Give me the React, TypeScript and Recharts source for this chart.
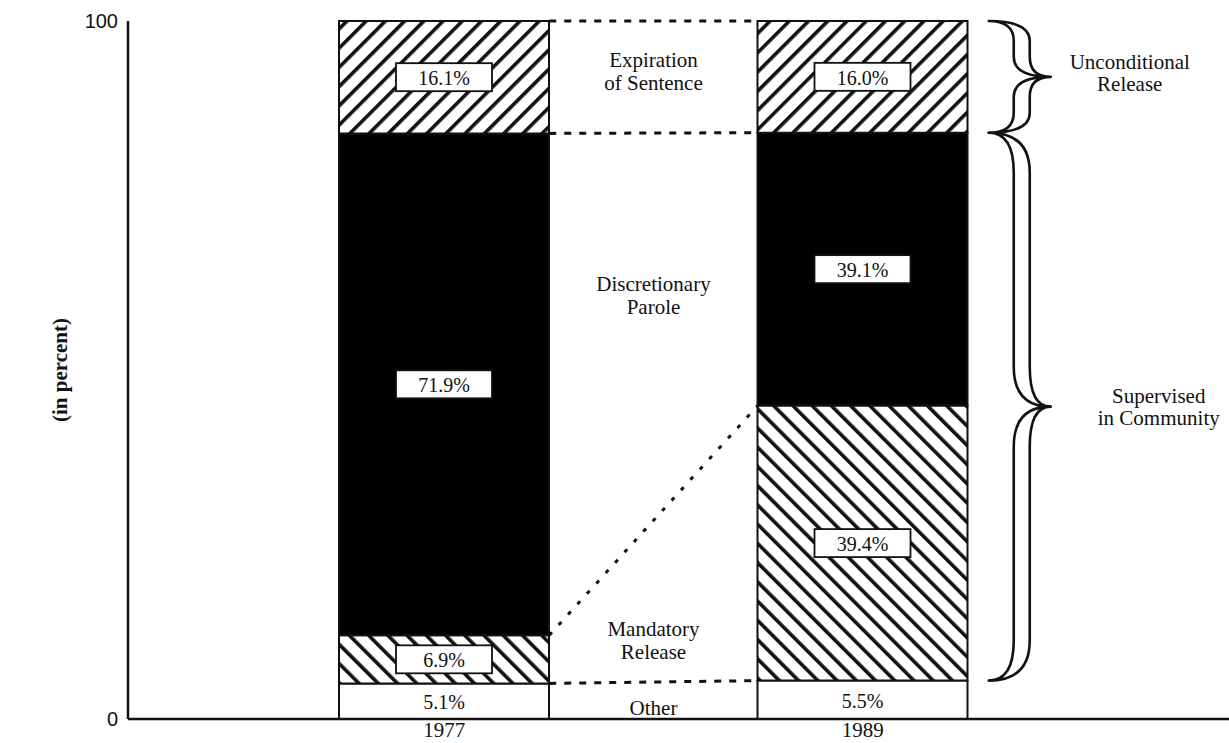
import { BarChart, Bar, XAxis, YAxis, ReferenceLine, LabelList } from 'recharts'

const years = ['1977', '1989']
const other = [5.1, 5.5]
const mandatory = [6.9, 39.4]
const parole = [71.9, 39.1]
const expiration = [16.1, 16.0]
const yTicks = [0, 100]

// annotation text between the bars, anchored at a value on the y scale
const middleLabels = [
  { lines: ['Expiration', 'of Sentence'], at: 92.7 },
  { lines: ['Discretionary', 'Parole'], at: 60.7 },
  { lines: ['Mandatory', 'Release'], at: 11.2 },
  { lines: ['Other'], at: 1.6 },
]

const segments = [other, mandatory, parole, expiration]
const top = (i: number, n: number) => segments.slice(0, n).reduce((s, a) => s + a[i], 0)

const data = years.map((year, i) => ({
  year,
  other: other[i],
  mandatory: mandatory[i],
  parole: parole[i],
  expiration: expiration[i],
}))

const braces = [
  { lines: ['Unconditional', 'Release'], from: top(1, 3), to: top(1, 4), r: 20, textDx: 79, textDy: -3.5 },
  { lines: ['Supervised', 'in Community'], from: top(1, 1), to: top(1, 3), r: 40, textDx: 108, textDy: 0 },
]

const BAR = 210
const HALF = BAR / 2
const SERIF = '"Liberation Serif", "Times New Roman", serif'
const INK = '#111'
const TILE = 13.6

function boxLabel(boxed: boolean) {
  return (p: any) => {
    const vb = p.viewBox ?? p
    const x = Number(vb.x ?? p.x)
    const y = Number(vb.y ?? p.y)
    const w = Number(vb.width ?? p.width)
    const h = Number(vb.height ?? p.height)
    const cx = x + w / 2
    const cy = y + h / 2
    const txt = `${Number(p.value).toFixed(1)}%`
    return (
      <g>
        {boxed && <rect x={cx - 48} y={cy - 14} width={96} height={28} fill="#fff" stroke={INK} strokeWidth={1.8} />}
        <text x={cx} y={cy + 1} textAnchor="middle" dominantBaseline="central" fontFamily={SERIF} fontSize={20} fill={INK}>
          {txt}
        </text>
      </g>
    )
  }
}

function connector(dash: string) {
  return (p: any) => (
    <line
      x1={p.x1 + HALF}
      y1={p.y1}
      x2={p.x2 - HALF}
      y2={p.y2}
      stroke={INK}
      strokeWidth={3}
      strokeDasharray={dash}
    />
  )
}

function middleText(lines: string[]) {
  return (p: any) => {
    const cx = (p.x1 + p.x2) / 2
    const n = lines.length
    return (
      <g>
        {lines.map((t, k) => (
          <text
            key={t}
            x={cx}
            y={p.y1 + (k - (n - 1) / 2) * 23}
            textAnchor="middle"
            dominantBaseline="central"
            fontFamily={SERIF}
            fontSize={21}
            fill={INK}
          >
            {t}
          </text>
        ))}
      </g>
    )
  }
}

function braceShape(b: (typeof braces)[number]) {
  return (p: any) => {
    const edge = p.x1 + HALF
    const x0 = edge + 21
    const xb = edge + 54
    const xt = edge + 83
    const h = 8
    const yT = Math.min(p.y1, p.y2)
    const yB = Math.max(p.y1, p.y2)
    const yM = (yT + yB) / 2
    const r = b.r
    const d = [
      `M${x0},${yT}`,
      `Q${xb + h},${yT} ${xb + h},${yT + r}`,
      `L${xb + h},${yM - r}`,
      `Q${xb + h},${yM} ${xt},${yM}`,
      `Q${xb + h},${yM} ${xb + h},${yM + r}`,
      `L${xb + h},${yB - r}`,
      `Q${xb + h},${yB} ${x0},${yB}`,
      `Q${xb - h},${yB} ${xb - h},${yB - r}`,
      `L${xb - h},${yM + r}`,
      `Q${xb - h},${yM} ${xt},${yM}`,
      `Q${xb - h},${yM} ${xb - h},${yM - r}`,
      `L${xb - h},${yT + r}`,
      `Q${xb - h},${yT} ${x0},${yT}`,
      'Z',
    ].join(' ')
    return (
      <g>
        <path d={d} fill="#fff" stroke={INK} strokeWidth={2.6} strokeLinejoin="round" />
        {b.lines.map((t, k) => (
          <text
            key={t}
            x={xt + b.textDx}
            y={yM + b.textDy + (k - 0.5) * 22}
            textAnchor="middle"
            dominantBaseline="central"
            fontFamily={SERIF}
            fontSize={21}
            fill={INK}
          >
            {t}
          </text>
        ))}
      </g>
    )
  }
}

const yLabel = (p: any) => {
  const vb = p.viewBox
  const cx = vb.x + 60
  const cy = vb.y + vb.height / 2
  return (
    <text
      x={cx}
      y={cy}
      transform={`rotate(-90 ${cx} ${cy})`}
      textAnchor="middle"
      dominantBaseline="central"
      fontFamily={SERIF}
      fontWeight="bold"
      fontSize={21}
      fill={INK}
    >
      (in percent)
    </text>
  )
}

export default function App() {
  return (
    <div style={{ position: 'absolute', left: 0, top: 0, background: '#fff' }}>
      <BarChart width={1229} height={743} data={data} margin={{ top: 21, right: 0, bottom: 0, left: 0 }}>
        <defs>
          <pattern id="fwd" patternUnits="userSpaceOnUse" width={TILE} height={TILE} patternTransform="rotate(45)">
            <rect width={TILE} height={TILE} fill="#fff" />
            <rect x={0} y={0} width={3.6} height={TILE} fill={INK} />
          </pattern>
          <pattern id="back" patternUnits="userSpaceOnUse" width={TILE} height={TILE} patternTransform="rotate(-45)">
            <rect width={TILE} height={TILE} fill="#fff" />
            <rect x={0} y={0} width={3.6} height={TILE} fill={INK} />
          </pattern>
        </defs>
        <XAxis
          dataKey="year"
          height={24}
          padding={{ left: 107, right: 157 }}
          axisLine={{ stroke: INK, strokeWidth: 2.5 }}
          tickLine={false}
          tickSize={0}
          tickMargin={3}
          tick={{ fill: INK, fontSize: 21, fontFamily: SERIF }}
        />
        <YAxis
          width={128}
          domain={[0, 100]}
          ticks={yTicks}
          axisLine={{ stroke: INK, strokeWidth: 2.5 }}
          tickLine={false}
          tickSize={0}
          tickMargin={10}
          tick={{ fill: INK, fontSize: 20, fontFamily: '"Liberation Sans", Arial, sans-serif' }}
          label={{ content: yLabel }}
        />
        <Bar dataKey="other" stackId="a" barSize={BAR} fill="#fff" stroke={INK} strokeWidth={2} isAnimationActive={false}>
          <LabelList dataKey="other" content={boxLabel(false)} />
        </Bar>
        <Bar dataKey="mandatory" stackId="a" barSize={BAR} fill="url(#back)" stroke={INK} strokeWidth={2} isAnimationActive={false}>
          <LabelList dataKey="mandatory" content={boxLabel(true)} />
        </Bar>
        <Bar dataKey="parole" stackId="a" barSize={BAR} fill="#000" stroke={INK} strokeWidth={2} isAnimationActive={false}>
          <LabelList dataKey="parole" content={boxLabel(true)} />
        </Bar>
        <Bar dataKey="expiration" stackId="a" barSize={BAR} fill="url(#fwd)" stroke={INK} strokeWidth={2} isAnimationActive={false}>
          <LabelList dataKey="expiration" content={boxLabel(true)} />
        </Bar>

        {[4, 3, 1].map((n) => (
          <ReferenceLine
            key={`c${n}`}
            position="middle"
            segment={[
              { x: years[0], y: top(0, n) },
              { x: years[1], y: top(1, n) },
            ]}
            shape={connector('7 8')}
          />
        ))}
        <ReferenceLine
          position="middle"
          segment={[
            { x: years[0], y: top(0, 2) },
            { x: years[1], y: top(1, 2) },
          ]}
          shape={connector('4 10')}
        />
        {middleLabels.map((m) => (
          <ReferenceLine
            key={m.lines[0]}
            position="middle"
            segment={[
              { x: years[0], y: m.at },
              { x: years[1], y: m.at },
            ]}
            shape={middleText(m.lines)}
          />
        ))}
        {braces.map((b) => (
          <ReferenceLine
            key={b.lines[0]}
            position="middle"
            segment={[
              { x: years[1], y: b.to },
              { x: years[1], y: b.from },
            ]}
            shape={braceShape(b)}
          />
        ))}
      </BarChart>
    </div>
  )
}
